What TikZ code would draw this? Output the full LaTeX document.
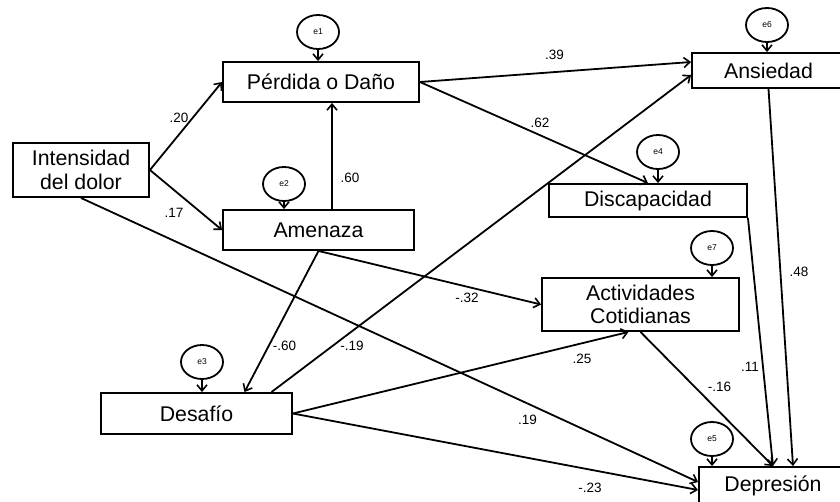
\documentclass[tikz,border=0pt]{standalone}
\usepackage{fontspec}
\setmainfont{Liberation Sans}
\usetikzlibrary{arrows.meta,shapes.geometric}
\begin{document}
\begin{tikzpicture}[x=1pt,y=-1pt,
  box/.style={draw,line width=1.9pt,rectangle,inner sep=0pt,font=\fontsize{21.3}{23.5}\selectfont,align=center},
  err/.style={draw,line width=1.8pt,ellipse,minimum width=42pt,minimum height=34pt,inner sep=0pt,font=\fontsize{8.5}{9}\selectfont},
  arr/.style={line width=1.8pt,-{Straight Barb[length=6pt,width=10pt,line width=1.6pt]}},
  lab/.style={font=\fontsize{13.5}{15}\selectfont,inner sep=0pt}]
\path[use as bounding box,clip] (0,0) rectangle (840,501);
% boxes
\node[box,minimum width=136pt,minimum height=54pt] (int) at (81,170) {Intensidad\\del dolor};
\node[box,minimum width=196pt,minimum height=40pt] (per) at (321,82) {Pérdida o Daño};
\node[box,minimum width=191pt,minimum height=40pt] (ame) at (318.5,230) {Amenaza};
\node[box,minimum width=191pt,minimum height=41pt] (des) at (196.5,413.5) {Desafío};
\node[box,minimum width=153pt,minimum height=35pt] (ans) at (768.5,70.5) {Ansiedad};
\node[box,minimum width=198pt,minimum height=33pt] (dis) at (648,200.5) {Discapacidad};
\node[box,minimum width=197pt,minimum height=53pt] (act) at (640.5,304.5) {Actividades\\Cotidianas};
\node[box,minimum width=148pt,minimum height=38pt] (dep) at (773,486) {Depresión};
% error terms
\node[err] (e1) at (318,32) {e1};
\node[err] (e2) at (284,184) {e2};
\node[err] (e3) at (202,362) {e3};
\node[err] (e4) at (658,152) {e4};
\node[err] (e5) at (712,439) {e5};
\node[err] (e6) at (767,25) {e6};
\node[err] (e7) at (712,248) {e7};
\draw[arr] (e1) -- (e1 |- per.north);
\draw[arr] (e2) -- (e2 |- ame.north);
\draw[arr] (e3) -- (e3 |- des.north);
\draw[arr] (e4) -- (e4 |- dis.north);
\draw[arr] (e5) -- (e5 |- dep.north);
\draw[arr] (e6) -- (e6 |- ans.north);
\draw[arr] (e7) -- (e7 |- act.north);
% paths
\draw[arr] (int.east) -- (per.west);
\draw[arr] (int.east) -- (ame.west);
\draw[arr] ([xshift=13.5pt]ame.north) -- ([xshift=13.5pt]ame.north |- per.south);
\draw[arr] (per.east) -- ([yshift=8.5pt]ans.west);
\draw[arr] (per.east) -- (dis.north);
\draw[arr] ([xshift=75pt]des.north) -- ([yshift=-4.5pt]ans.west);
\draw[arr] (ame.south) -- ([xshift=48pt]des.north);
\draw[arr] (ame.south) -- (act.west);
\draw[arr] (int.south) -- ([yshift=4pt]dep.west);
\draw[arr] (des.east) -- ([xshift=-12pt]act.south);
\draw[arr] (des.east) -- ([yshift=-4pt]dep.west);
\draw[arr] (act.south) -- (dep.north);
\draw[arr] (dis.south east) -- (dep.north);
\draw[arr] (ans.south) -- ([xshift=20pt]dep.north);
% coefficients
\node[lab] (l1) at (179,118) {.20};
\node[lab] (l2) at (174,213) {.17};
\node[lab] (l3) at (350,178) {.60};
\node[lab] (l4) at (554.5,55) {.39};
\node[lab] (l5) at (540,123) {.62};
\node[lab] (l6) at (799,272) {.48};
\node[lab] (l7) at (750,367) {.11};
\node[lab] (l8) at (467,298) {-.32};
\node[lab] (l9) at (582,359) {.25};
\node[lab] (l10) at (719.5,387) {-.16};
\node[lab] (l11) at (527.5,420) {.19};
\node[lab] (l12) at (590,488) {-.23};
\node[lab] (l13) at (284.5,346) {-.60};
\node[lab] (l14) at (352,346) {-.19};
\end{tikzpicture}
\end{document}
